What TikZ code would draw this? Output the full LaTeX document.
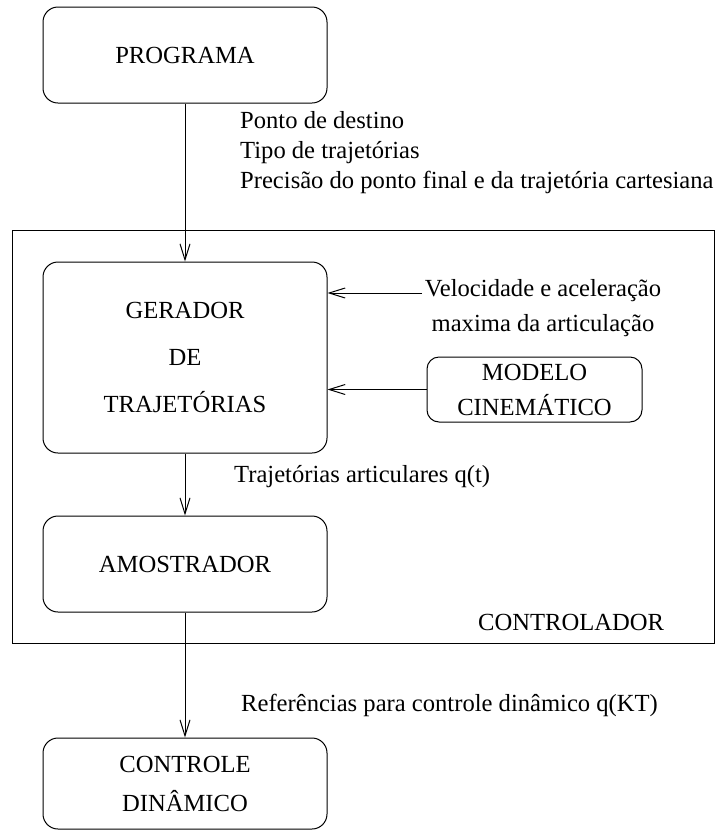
\documentclass[tikz,border=0pt]{standalone}
\usepackage{fontspec}
\setmainfont{Liberation Serif}
\usetikzlibrary{arrows.meta, positioning}
\newcommand{\figfont}[1]{\fontsize{24.6}{#1}\selectfont}
\tikzset{
    block/.style = {rectangle, rounded corners=15pt, draw, line width=1pt,
                    minimum width=284pt, inner sep=0pt, align=center},
    arrow/.style = {line width=1pt, -{Straight Barb[length=16pt,width=10pt]}},
    note/.style = {inner sep=0pt, anchor=west, align=left},
}
\begin{document}
\begin{tikzpicture}[x=1pt, y=-1pt, font=\figfont{27}]
\useasboundingbox (0,0) rectangle (726,831);

% controller frame
\node (ctrl) [rectangle, draw, line width=1pt, minimum width=702pt, minimum height=413pt] at (363,436.5) {};
\node (ctrllab) [note] at (478,622) {CONTROLADOR};

% blocks
\node (prog) [block, minimum height=96pt] at (185,55) {PROGRAMA};
\node (ger) [block, minimum height=191pt, font=\figfont{47}] at (185,357.5) {GERADOR\\DE\\TRAJETÓRIAS};
\node (mod) [block, rounded corners=12pt, minimum width=215pt, minimum height=65pt, font=\figfont{35}] at (534.5,389.5) {MODELO\\CINEMÁTICO};
\node (amo) [block, minimum height=96pt] at (185,564) {AMOSTRADOR};
\node (cdin) [block, minimum height=91pt, font=\figfont{39}] at (185,783.5) {CONTROLE\\DINÂMICO};

% texts
\node (progout) [note, font=\figfont{30}] at (240,153) {Ponto de destino\\Tipo de trajetórias\\Precisão do ponto final e da trajetória cartesiana};
\node (vel) [note, align=center, anchor=center, font=\figfont{35}] at (543,308) {Velocidade e aceleração\\maxima da articulação};
\coordinate (velend) at (422,293);
\node (qt) [note] at (234,477) {Trajetórias articulares q(t)};
\node (qkt) [note] at (241,705) {Referências para controle dinâmico q(KT)};

% Arrows
\draw[arrow] (prog) -- (ger);
\draw[arrow] (velend) -- (velend -| ger.east);
\draw[arrow] (mod.west) -- (mod.west -| ger.east);
\draw[arrow] (ger) -- (amo);
\draw[arrow] (amo) -- (cdin);
\end{tikzpicture}
\end{document}
